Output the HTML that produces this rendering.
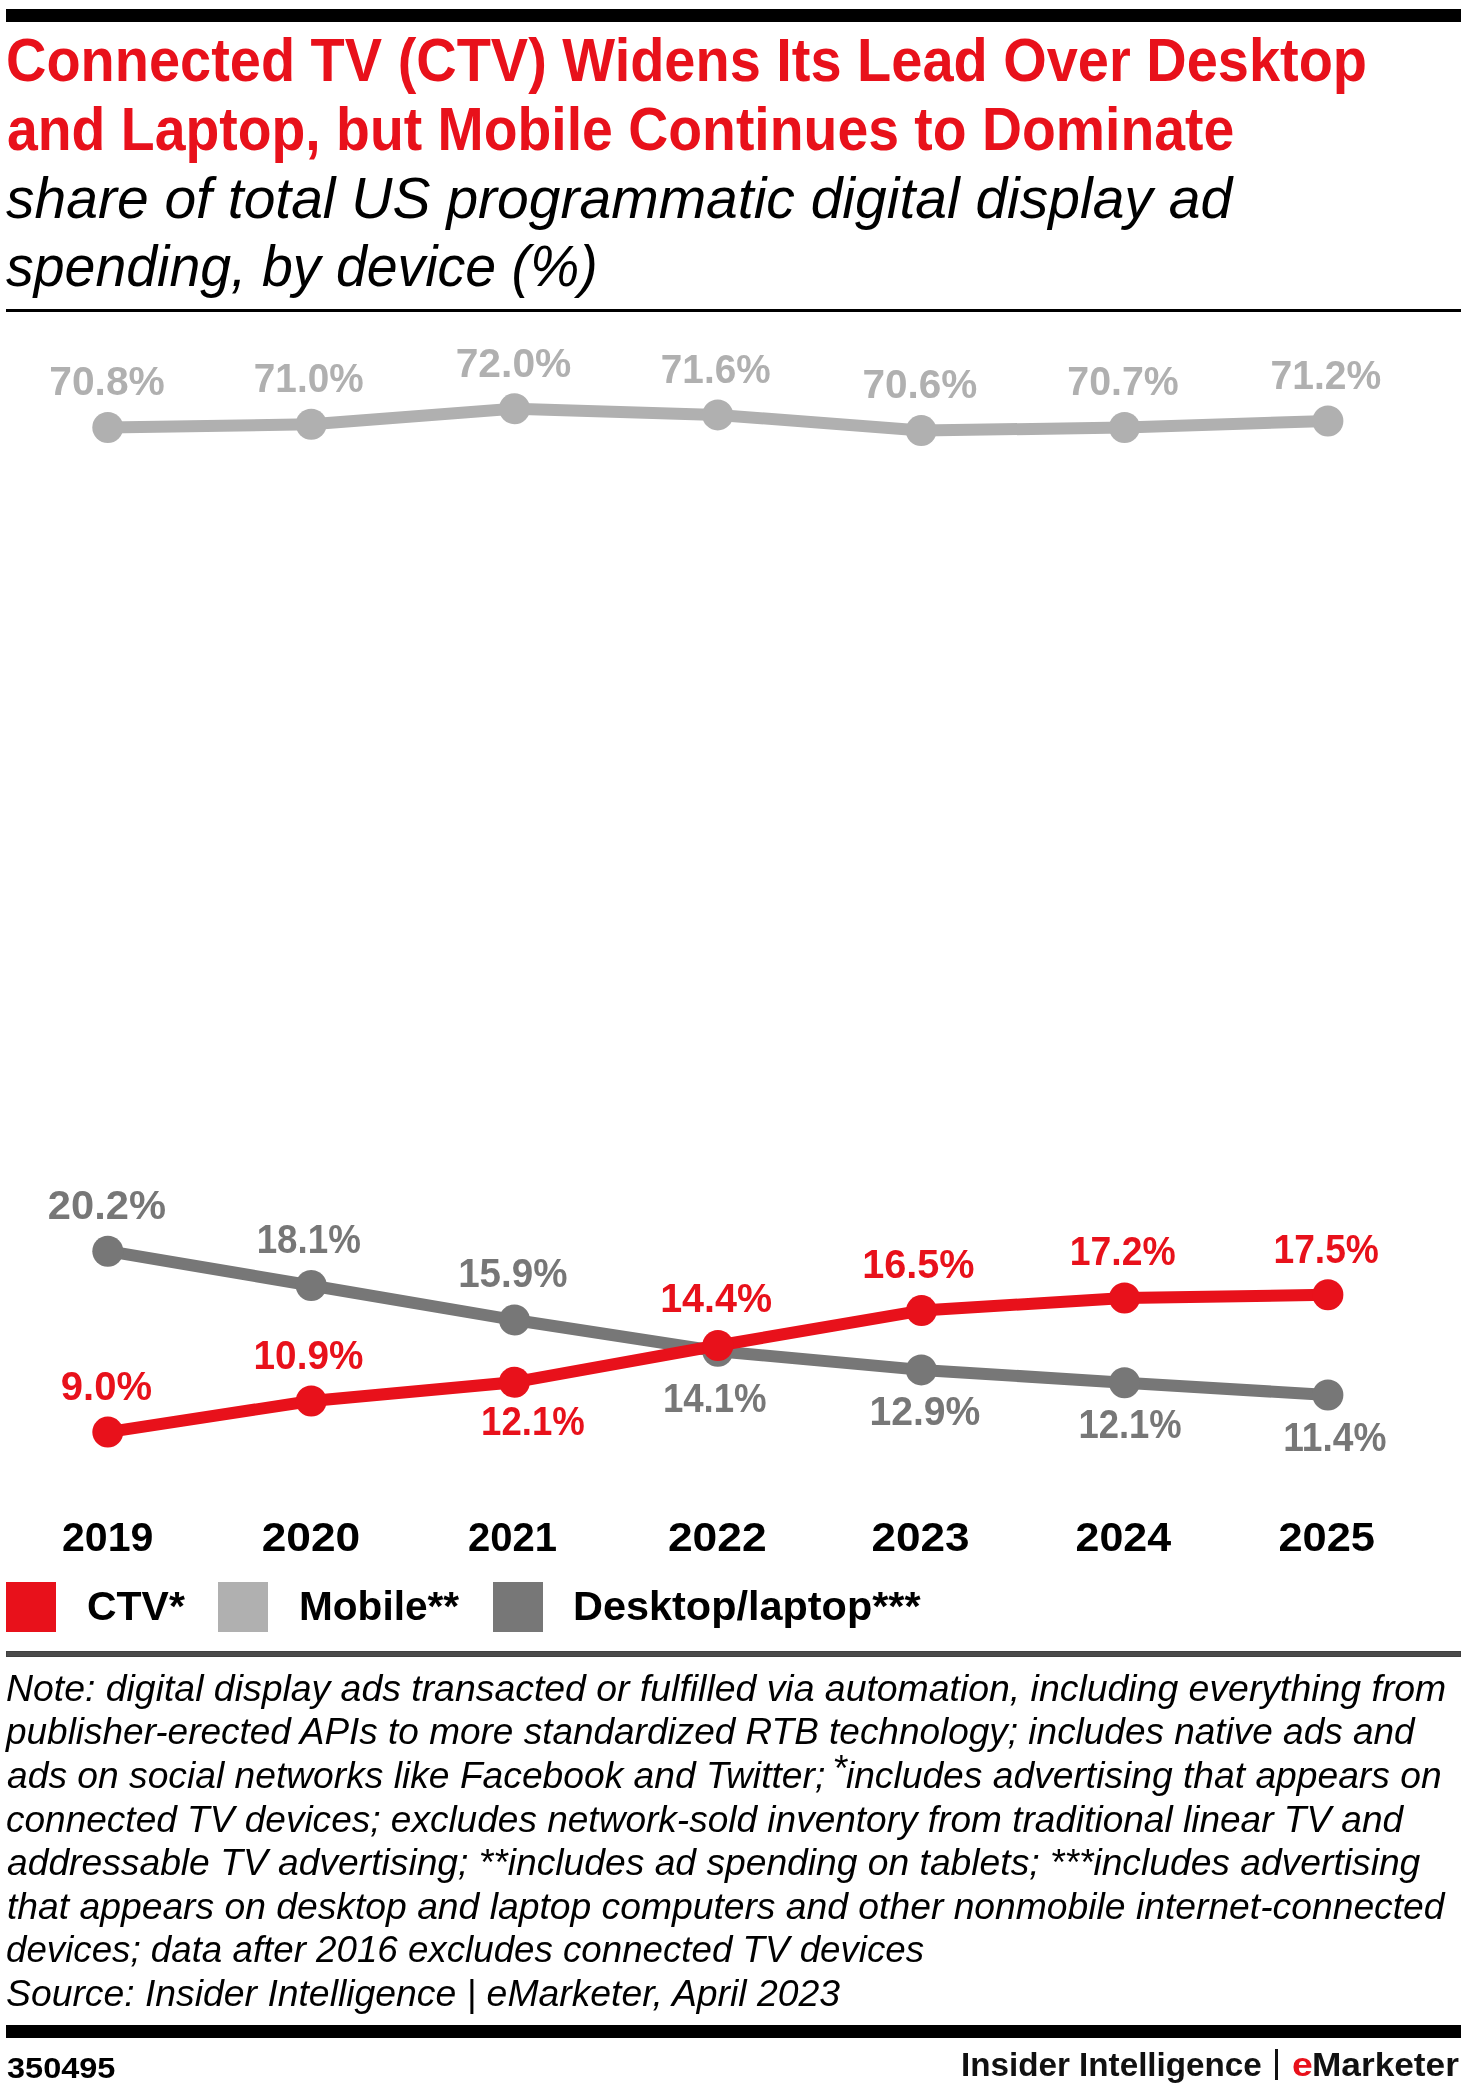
<!DOCTYPE html>
<html lang="en"><head><meta charset="utf-8"><title>Connected TV (CTV) Widens Its Lead Over Desktop and Laptop, but Mobile Continues to Dominate</title>
<style>
html,body{margin:0;padding:0;background:#fff}
h1,p,header,footer,section{margin:0;padding:0;font-size:inherit;font-weight:inherit}
body{width:1467px;height:2098px;position:relative;overflow:hidden;font-family:'Liberation Sans', sans-serif}
.ln{position:absolute;margin:0;padding:0;white-space:nowrap;transform-origin:0 0}
#page{position:absolute;left:0;top:0;width:1467px;height:2098px;will-change:transform}
.bar{position:absolute;left:6px;width:1454.5px}
.sw{position:absolute;top:1582px;width:50px;height:50px}
.pipe{position:absolute;left:1274.5px;top:2049px;width:3.4px;height:30.8px;background:#111}
sup{font-size:1em;vertical-align:baseline;position:relative;top:-0.2em;line-height:0;margin:0 -1px 0 -3px}
svg{position:absolute;left:0;top:0} svg text{font-family:'Liberation Sans', sans-serif}
</style></head>
<body>
<div id="page">
<div class="bar" style="top:9px;height:13px;background:#000"></div>
<header>
<h1>
<span class="ln" style="left:6.09px;top:30.20px;font-size:61px;line-height:61px;font-weight:bold;font-style:normal;color:#e8111b;transform:scaleX(0.9171);">Connected TV (CTV) Widens Its Lead Over Desktop</span>
<span class="ln" style="left:7.02px;top:98.70px;font-size:61px;line-height:61px;font-weight:bold;font-style:normal;color:#e8111b;transform:scaleX(0.9077);">and Laptop, but Mobile Continues to Dominate</span>
</h1>
<p>
<span class="ln" style="left:6.00px;top:170.40px;font-size:57px;line-height:57px;font-weight:normal;font-style:italic;color:#000;transform:scaleX(1.0000);">share of total US programmatic digital display ad</span>
<span class="ln" style="left:6.01px;top:238.10px;font-size:57px;line-height:57px;font-weight:normal;font-style:italic;color:#000;transform:scaleX(0.9729);">spending, by device (%)</span>
</p>
</header>
<div class="bar" style="top:309px;height:3px;background:#000"></div>
<svg width="1467" height="1575" viewBox="0 0 1467 1575">
<g fill="#b0b0b0" stroke="none"><polyline points="107.8,427.5 311.2,424.3 514.5,408.7 717.7,414.9 921.2,430.6 1124.5,427.5 1327.9,421.0" fill="none" stroke="#b0b0b0" stroke-width="12" stroke-linejoin="round"/><circle cx="107.8" cy="427.5" r="15.5"/><circle cx="311.2" cy="424.3" r="15.5"/><circle cx="514.5" cy="408.7" r="15.5"/><circle cx="717.7" cy="414.9" r="15.5"/><circle cx="921.2" cy="430.6" r="15.5"/><circle cx="1124.5" cy="427.5" r="15.5"/><circle cx="1327.9" cy="421.0" r="15.5"/></g>
<g fill="#777777" stroke="none"><polyline points="107.8,1251.2 311.2,1285.5 514.5,1320.0 717.8,1351.2 921.3,1369.9 1124.5,1382.7 1327.9,1395.0" fill="none" stroke="#777777" stroke-width="12" stroke-linejoin="round"/><circle cx="107.8" cy="1251.2" r="15.5"/><circle cx="311.2" cy="1285.5" r="15.5"/><circle cx="514.5" cy="1320.0" r="15.5"/><circle cx="717.8" cy="1351.2" r="15.5"/><circle cx="921.3" cy="1369.9" r="15.5"/><circle cx="1124.5" cy="1382.7" r="15.5"/><circle cx="1327.9" cy="1395.0" r="15.5"/></g>
<g fill="#e8111b" stroke="none"><polyline points="107.8,1432.1 311.2,1401.0 514.4,1382.2 717.9,1345.5 921.5,1310.6 1124.5,1298.0 1327.9,1294.8" fill="none" stroke="#e8111b" stroke-width="12" stroke-linejoin="round"/><circle cx="107.8" cy="1432.1" r="15.5"/><circle cx="311.2" cy="1401.0" r="15.5"/><circle cx="514.4" cy="1382.2" r="15.5"/><circle cx="717.9" cy="1345.5" r="15.5"/><circle cx="921.5" cy="1310.6" r="15.5"/><circle cx="1124.5" cy="1298.0" r="15.5"/><circle cx="1327.9" cy="1294.8" r="15.5"/></g>
<text transform="translate(49.28 395.20) scale(1.0189 1)" font-size="40" font-weight="bold" fill="#b0b0b0">70.8%</text>
<text transform="translate(253.84 392.10) scale(0.9677 1)" font-size="40" font-weight="bold" fill="#b0b0b0">71.0%</text>
<text transform="translate(455.67 376.60) scale(1.0206 1)" font-size="40" font-weight="bold" fill="#b0b0b0">72.0%</text>
<text transform="translate(660.84 382.80) scale(0.9677 1)" font-size="40" font-weight="bold" fill="#b0b0b0">71.6%</text>
<text transform="translate(862.38 398.10) scale(1.0135 1)" font-size="40" font-weight="bold" fill="#b0b0b0">70.6%</text>
<text transform="translate(1067.32 395.00) scale(0.9829 1)" font-size="40" font-weight="bold" fill="#b0b0b0">70.7%</text>
<text transform="translate(1270.53 388.90) scale(0.9767 1)" font-size="40" font-weight="bold" fill="#b0b0b0">71.2%</text>
<text transform="translate(47.85 1218.90) scale(1.0413 1)" font-size="40" font-weight="bold" fill="#777777">20.2%</text>
<text transform="translate(256.69 1253.20) scale(0.9185 1)" font-size="40" font-weight="bold" fill="#777777">18.1%</text>
<text transform="translate(458.18 1287.40) scale(0.9638 1)" font-size="40" font-weight="bold" fill="#777777">15.9%</text>
<text transform="translate(662.90 1412.40) scale(0.9149 1)" font-size="40" font-weight="bold" fill="#777777">14.1%</text>
<text transform="translate(869.45 1425.10) scale(0.9783 1)" font-size="40" font-weight="bold" fill="#777777">12.9%</text>
<text transform="translate(1078.40 1438.40) scale(0.9112 1)" font-size="40" font-weight="bold" fill="#777777">12.1%</text>
<text transform="translate(1283.27 1450.70) scale(0.9280 1)" font-size="40" font-weight="bold" fill="#777777">11.4%</text>
<text transform="translate(60.80 1399.80) scale(1.0000 1)" font-size="40" font-weight="bold" fill="#e8111b">9.0%</text>
<text transform="translate(253.57 1368.60) scale(0.9683 1)" font-size="40" font-weight="bold" fill="#e8111b">10.9%</text>
<text transform="translate(481.10 1435.10) scale(0.9139 1)" font-size="40" font-weight="bold" fill="#e8111b">12.1%</text>
<text transform="translate(660.13 1312.00) scale(0.9873 1)" font-size="40" font-weight="bold" fill="#e8111b">14.4%</text>
<text transform="translate(862.22 1277.90) scale(0.9909 1)" font-size="40" font-weight="bold" fill="#e8111b">16.5%</text>
<text transform="translate(1069.75 1265.40) scale(0.9339 1)" font-size="40" font-weight="bold" fill="#e8111b">17.2%</text>
<text transform="translate(1273.46 1262.90) scale(0.9293 1)" font-size="40" font-weight="bold" fill="#e8111b">17.5%</text>
<text transform="translate(62.00 1551.30) scale(1.0023 1)" font-size="41" font-weight="bold" fill="#000">2019</text>
<text transform="translate(261.70 1551.30) scale(1.0803 1)" font-size="41" font-weight="bold" fill="#000">2020</text>
<text transform="translate(468.03 1551.30) scale(0.9765 1)" font-size="41" font-weight="bold" fill="#000">2021</text>
<text transform="translate(667.89 1551.30) scale(1.0837 1)" font-size="41" font-weight="bold" fill="#000">2022</text>
<text transform="translate(871.40 1551.30) scale(1.0769 1)" font-size="41" font-weight="bold" fill="#000">2023</text>
<text transform="translate(1075.54 1551.30) scale(1.0476 1)" font-size="41" font-weight="bold" fill="#000">2024</text>
<text transform="translate(1278.42 1551.30) scale(1.0593 1)" font-size="41" font-weight="bold" fill="#000">2025</text>
</svg>
<div class="legend">
<span class="sw" style="left:6px;background:#e8111b"></span><span class="ln" style="left:87.10px;top:1585.80px;font-size:41px;line-height:41px;font-weight:bold;font-style:normal;color:#000;transform:scaleX(0.9990);">CTV*</span>
<span class="sw" style="left:218.3px;background:#b0b0b0"></span><span class="ln" style="left:298.82px;top:1585.80px;font-size:41px;line-height:41px;font-weight:bold;font-style:normal;color:#000;transform:scaleX(0.9900);">Mobile**</span>
<span class="sw" style="left:493.2px;background:#777777"></span><span class="ln" style="left:573.28px;top:1585.80px;font-size:41px;line-height:41px;font-weight:bold;font-style:normal;color:#000;transform:scaleX(1.0105);">Desktop/laptop***</span>
</div>
<div class="bar" style="top:1651px;height:6px;background:#4b4b4b;box-sizing:border-box;border:1px solid #404040"></div>
<section class="notes">
<p class="ln" style="left:5.75px;top:1670.80px;font-size:36px;line-height:36px;font-weight:normal;font-style:italic;color:#000;transform:scaleX(1.0386);">Note: digital display ads transacted or fulfilled via automation, including everything from</p>
<p class="ln" style="left:6.32px;top:1714.40px;font-size:36px;line-height:36px;font-weight:normal;font-style:italic;color:#000;transform:scaleX(1.0266);">publisher-erected APIs to more standardized RTB technology; includes native ads and</p>
<p class="ln" style="left:6.79px;top:1758.00px;font-size:36px;line-height:36px;font-weight:normal;font-style:italic;color:#000;transform:scaleX(1.0335);">ads on social networks like Facebook and Twitter; <sup>*</sup>includes advertising that appears on</p>
<p class="ln" style="left:5.76px;top:1801.60px;font-size:36px;line-height:36px;font-weight:normal;font-style:italic;color:#000;transform:scaleX(1.0283);">connected TV devices; excludes network-sold inventory from traditional linear TV and</p>
<p class="ln" style="left:6.79px;top:1845.20px;font-size:36px;line-height:36px;font-weight:normal;font-style:italic;color:#000;transform:scaleX(1.0340);">addressable TV advertising; **includes ad spending on tablets; ***includes advertising</p>
<p class="ln" style="left:7.15px;top:1888.80px;font-size:36px;line-height:36px;font-weight:normal;font-style:italic;color:#000;transform:scaleX(1.0350);">that appears on desktop and laptop computers and other nonmobile internet-connected</p>
<p class="ln" style="left:5.77px;top:1932.40px;font-size:36px;line-height:36px;font-weight:normal;font-style:italic;color:#000;transform:scaleX(1.0195);">devices; data after 2016 excludes connected TV devices</p>
<p class="ln" style="left:5.75px;top:1976.00px;font-size:36px;line-height:36px;font-weight:normal;font-style:italic;color:#000;transform:scaleX(1.0367);">Source: Insider Intelligence | eMarketer, April 2023</p>
</section>
<div class="bar" style="top:2025px;height:12.5px;background:#000"></div>
<footer>
<span class="ln" style="left:6.66px;top:2054.00px;font-size:29px;line-height:29px;font-weight:bold;font-style:normal;color:#000;transform:scaleX(1.1203);">350495</span>
<span class="ln" style="left:961.25px;top:2046.90px;font-size:34px;line-height:34px;font-weight:bold;font-style:normal;color:#111;transform:scaleX(0.9767);">Insider Intelligence</span>
<span class="ln" style="left:1292.37px;top:2046.90px;font-size:34px;line-height:34px;font-weight:bold;font-style:normal;color:#e8111b;transform:scaleX(1.0976);">e</span>
<span class="ln" style="left:1312.22px;top:2046.90px;font-size:34px;line-height:34px;font-weight:bold;font-style:normal;color:#111;transform:scaleX(1.0359);">Marketer</span>
<span class="pipe"></span>
</footer>
</div>
</body></html>
